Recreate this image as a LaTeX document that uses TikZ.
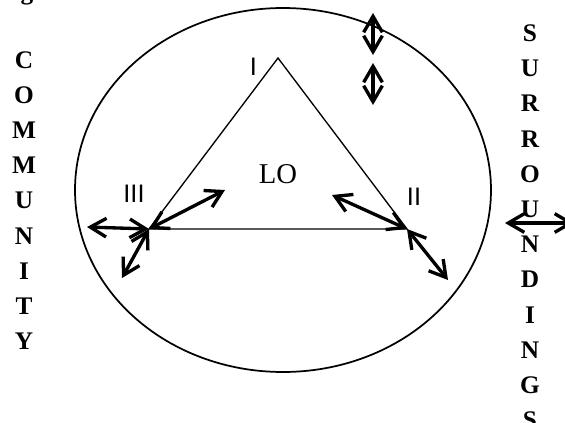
\documentclass[tikz,border=0pt]{standalone}
\usepackage{fontspec}
\setmainfont{Liberation Serif}
\setsansfont{Liberation Sans}
\usetikzlibrary{arrows.meta}
\definecolor{inkblack}{HTML}{000000}
\tikzset{
  % the circle of surroundings and the learning triangle
  ring/.style={draw=inkblack, line width=1.3pt},
  tri/.style={draw=inkblack, line width=1pt, line join=miter},
  % thick two-headed arrows
  dbl/.style={{Straight Barb[length=12pt,width=14pt,line width=2.5pt]}-{Straight Barb[length=12pt,width=14pt,line width=2.5pt]},
    line width=2.5pt, color=inkblack},
  % letters set one under another
  vlet/.style={font=\fontsize{19}{19}\selectfont\bfseries, anchor=base, inner sep=0pt},
  numlab/.style={font=\sffamily\fontsize{19}{19}\selectfont, anchor=base, inner sep=0pt},
  midlab/.style={font=\fontsize{21.5}{21.5}\selectfont, anchor=base, inner sep=0pt},
}
\begin{document}
\begin{tikzpicture}[x=0.75pt,y=-0.75pt]
  \useasboundingbox (0,0) rectangle (565,422);
  % surroundings
  \draw[ring] (283,190) ellipse [x radius=208, y radius=182];
  % triangle corners
  \coordinate (v1) at (278,58);
  \coordinate (v2) at (407,229);
  \coordinate (v3) at (149,229);
  \draw[tri] (v1) -- (v2) -- (v3) -- cycle;
  \node[numlab] (l1) at (253.5,75) {I};
  \node[numlab] (l2) at (414,205) {II};
  \node[numlab] (l3) at (134,202) {III};
  \node[midlab] (lo) at (278,183) {LO};
  % free ends of the arrows
  \coordinate (t1a) at (373,13);
  \coordinate (t1b) at (373,55);
  \coordinate (t2a) at (373,63);
  \coordinate (t2b) at (373,105);
  \coordinate (sra) at (505,223);
  \coordinate (srb) at (574,223);
  \coordinate (c3l) at (87,227);
  \coordinate (c3u) at (225,190);
  \coordinate (c3d) at (122,278);
  \coordinate (c2u) at (332,195);
  \coordinate (c2d) at (448,280);
  \draw[dbl] (t1a) -- (t1b);
  \draw[dbl] (t2a) -- (t2b);
  \draw[dbl] (sra) -- (srb);
  \draw[dbl] (c3l) -- (v3);
  \draw[dbl] (v3) -- (c3u);
  \draw[dbl] (v3) -- (c3d);
  \draw[dbl] (v2) -- (c2u);
  \draw[dbl] (v2) -- (c2d);
  % side words
  \node[vlet] (top) at (27,-1) {g};
  \foreach \l [count=\i] in {C,O,M,M,U,N,I,T,Y}
    \node[vlet] (com\i) at (24,68+35.2*\i-35.2) {\l};
  \foreach \l [count=\i] in {S,U,R,R,O,U,N,D,I,N,G,S}
    \node[vlet] (sur\i) at (530,41.5+35.2*\i-35.2) {\l};
\end{tikzpicture}
\end{document}
